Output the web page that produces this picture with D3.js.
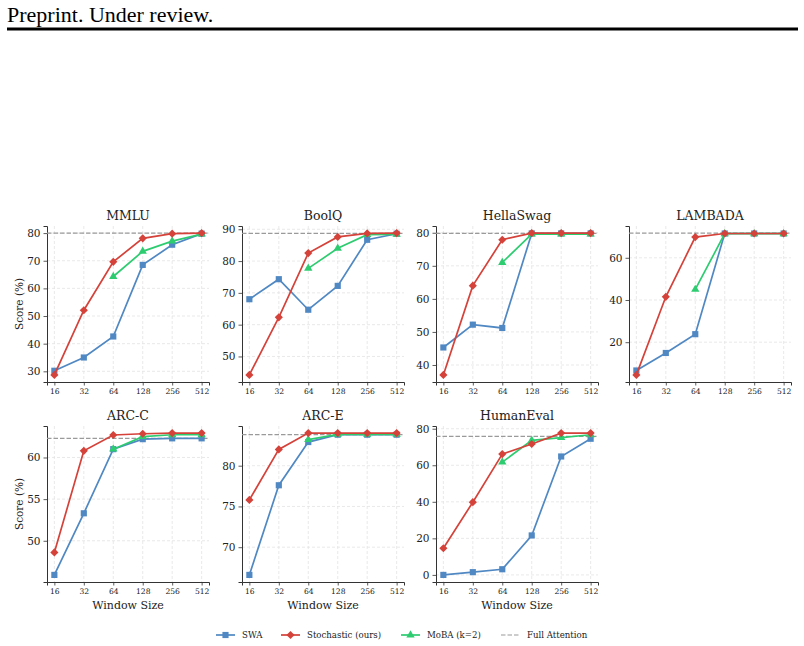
<!DOCTYPE html>
<html>
<head>
<meta charset="utf-8">
<script src="https://cdn.jsdelivr.net/npm/d3@7"></script>
<style>
  body { margin: 0; background: #fff; }
  svg { display: block; }
  svg text { font-family: "DejaVu Serif", serif !important; fill: #222; }
  svg text.header { font-family: "Liberation Serif", serif !important; fill: #000; }
</style>
</head>
<body>
<div id="chart"></div>
<script>
// window sizes on the x axis
const windows = [16, 32, 64, 128, 256, 512]
const benchmarks = ["MMLU", "BoolQ", "HellaSwag", "LAMBADA", "ARC-C", "ARC-E", "HumanEval"]

// one row per benchmark, one value per window size
const swaScores = [
  [30.2, 35.0, 42.6, 68.5, 75.8, 79.8],
  [68.0, 74.3, 64.7, 72.2, 86.7, 88.6],
  [45.3, 52.2, 51.2, 79.8, 79.8, 79.8],
  [6.6, 14.9, 23.8, 71.5, 71.5, 71.5],
  [45.9, 53.3, 61.0, 62.2, 62.3, 62.3],
  [66.6, 77.6, 82.9, 83.8, 83.8, 83.8],
  [0.0, 1.5, 3.1, 21.6, 64.8, 74.5]
]
const stochScores = [
  [28.7, 52.1, 69.6, 78.1, 79.8, 80.0],
  [44.2, 62.3, 82.5, 87.6, 88.7, 88.8],
  [37.0, 64.0, 77.9, 79.9, 79.9, 79.9],
  [4.5, 41.5, 69.8, 71.5, 71.5, 71.5],
  [48.6, 60.8, 62.7, 62.85, 62.93, 62.93],
  [75.8, 82.0, 84.0, 84.0, 84.0, 84.0],
  [14.6, 39.8, 66.1, 71.6, 77.6, 77.6]
]
const mobaScores = [
  [null, null, 64.3, 73.4, 77.1, 79.6],
  [null, null, 77.7, 84.0, 88.3, 88.4],
  [null, null, 71.0, 79.6, 79.6, 79.6],
  [null, null, 45.0, 71.4, 71.4, 71.4],
  [null, null, 61.0, 62.5, 62.73, 62.73],
  [null, null, 83.2, 83.84, 83.84, 83.84],
  [null, null, 61.7, 73.6, 75.1, 76.7]
]
const fullAttention = [80.0, 88.7, 79.8, 71.7, 62.29, 83.8, 75.8]
const yTicks = [
  [30, 40, 50, 60, 70, 80],
  [50, 60, 70, 80, 90],
  [40, 50, 60, 70, 80],
  [20, 40, 60],
  [50, 55, 60],
  [70, 75, 80],
  [0, 20, 40, 60, 80]
]

const colors = { swa: "#5088c3", stoch: "#d4423a", moba: "#2ecc71", full: "#9a9a9a" }
const SERIF = "'DejaVu Serif', serif"

const W = 804, H = 646
const svg = d3.select("#chart").append("svg")
  .attr("width", W).attr("height", H)
  .style("background", "#fff")

// page header
svg.append("text")
  .attr("class", "header")
  .attr("x", 7).attr("y", 22)
  .style("font-size", "22px")
  .text("Preprint. Under review.")
svg.append("rect").attr("x", 7).attr("y", 27.5).attr("width", 791).attr("height", 3).attr("fill", "#000")

const colLeft = [47, 242, 436, 629]
const rowTop = [226, 426]
const pw = 162, ph = 156

const symbols = {
  swa: d3.symbol().type(d3.symbolSquare).size(38),
  stoch: d3.symbol().type(d3.symbolSquare).size(33),
  moba: d3.symbol().type(d3.symbolTriangle).size(30)
}
const symRotate = { swa: 0, stoch: 45, moba: 0 }

function drawPanel(i) {
  const row = Math.floor(i / 4), col = i % 4
  const g = svg.append("g").attr("transform", `translate(${colLeft[col]},${rowTop[row]})`)

  const x = d3.scaleLog().base(2)
    .domain([Math.pow(2, 3.75), Math.pow(2, 9.25)])
    .range([0, pw])

  const all = swaScores[i].concat(stochScores[i], mobaScores[i].filter(v => v != null), [fullAttention[i]])
  const lo = d3.min(all), hi = d3.max(all), m = (hi - lo) * 0.05
  const y = d3.scaleLinear().domain([lo - m, hi + m]).range([ph, 0])

  // grid
  g.selectAll(".gx").data(windows).enter().append("line")
    .attr("x1", d => x(d)).attr("x2", d => x(d))
    .attr("y1", 0).attr("y2", ph)
    .attr("stroke", "#e3e3e3").attr("stroke-width", 0.8).attr("stroke-dasharray", "3,2")
  g.selectAll(".gy").data(yTicks[i]).enter().append("line")
    .attr("x1", 0).attr("x2", pw)
    .attr("y1", d => y(d)).attr("y2", d => y(d))
    .attr("stroke", "#e3e3e3").attr("stroke-width", 0.8).attr("stroke-dasharray", "3,2")

  // axes
  const xAxis = g.append("g").attr("transform", `translate(0,${ph})`)
    .call(d3.axisBottom(x).tickValues(windows).tickFormat(d3.format("d")).tickSizeOuter(0).tickSize(3.5).tickPadding(3))
  xAxis.attr("font-family", SERIF)
  xAxis.selectAll("text").style("font-size", "7.6px").style("font-family", SERIF)
  const yAxis = g.append("g")
    .call(d3.axisLeft(y).tickValues(yTicks[i]).tickSizeOuter(0).tickSize(3.5).tickPadding(3))
  yAxis.attr("font-family", SERIF)
  yAxis.selectAll("text").style("font-size", "10.5px").style("font-family", SERIF)
  g.selectAll(".domain").attr("stroke", "#333").attr("stroke-width", 1)
  g.selectAll(".tick line").attr("stroke", "#333").attr("stroke-width", 0.8)

  // full attention reference
  g.append("line")
    .attr("x1", 0).attr("x2", pw)
    .attr("y1", y(fullAttention[i])).attr("y2", y(fullAttention[i]))
    .attr("stroke", colors.full).attr("stroke-width", 1.2).attr("stroke-dasharray", "4.5,2")

  const series = [
    ["swa", swaScores[i]],
    ["moba", mobaScores[i]],
    ["stoch", stochScores[i]]
  ]
  const line = d3.line().x(d => x(d[0])).y(d => y(d[1]))
  for (const [key, vals] of series) {
    const pts = windows.map((w, j) => [w, vals[j]]).filter(d => d[1] != null)
    g.append("path").datum(pts)
      .attr("d", line)
      .attr("fill", "none").attr("stroke", colors[key]).attr("stroke-width", 1.7)
    g.selectAll(".m-" + key).data(pts).enter().append("path")
      .attr("transform", d => `translate(${x(d[0])},${y(d[1])}) rotate(${symRotate[key]})`)
      .attr("d", symbols[key])
      .attr("fill", colors[key])
  }

  g.append("text")
    .attr("x", pw / 2).attr("y", -6)
    .attr("text-anchor", "middle")
    .style("font-family", SERIF)
    .style("font-size", "12.5px")
    .text(benchmarks[i])

  if (col === 0) {
    g.append("text")
      .attr("transform", `translate(${-24},${ph / 2}) rotate(-90)`)
      .attr("text-anchor", "middle")
      .style("font-family", SERIF)
      .style("font-size", "10.5px")
      .text("Score (%)")
  }
  if (row === 1) {
    g.append("text")
      .attr("x", pw / 2).attr("y", ph + 27)
      .attr("text-anchor", "middle")
      .style("font-family", SERIF)
      .style("font-size", "11px")
      .text("Window Size")
  }
}

benchmarks.forEach((b, i) => drawPanel(i))

// legend
const legendItems = [
  { key: "swa", label: "SWA", x: 216 },
  { key: "stoch", label: "Stochastic (ours)", x: 281 },
  { key: "moba", label: "MoBA (k=2)", x: 401 },
  { key: "full", label: "Full Attention", x: 501 }
]
const lg = svg.append("g")
for (const it of legendItems) {
  const ly = 635
  lg.append("line")
    .attr("x1", it.x).attr("x2", it.x + 19)
    .attr("y1", ly).attr("y2", ly)
    .attr("stroke", colors[it.key])
    .attr("stroke-width", it.key === "full" ? 1.2 : 1.7)
    .attr("stroke-dasharray", it.key === "full" ? "4.5,2" : null)
  if (symbols[it.key]) {
    lg.append("path")
      .attr("transform", `translate(${it.x + 9.5},${ly}) rotate(${symRotate[it.key]})`)
      .attr("d", symbols[it.key])
      .attr("fill", colors[it.key])
  }
  lg.append("text")
    .attr("x", it.x + 26).attr("y", ly + 3)
    .style("font-family", SERIF)
    .style("font-size", "8.6px")
    .text(it.label)
}
</script>
</body>
</html>
